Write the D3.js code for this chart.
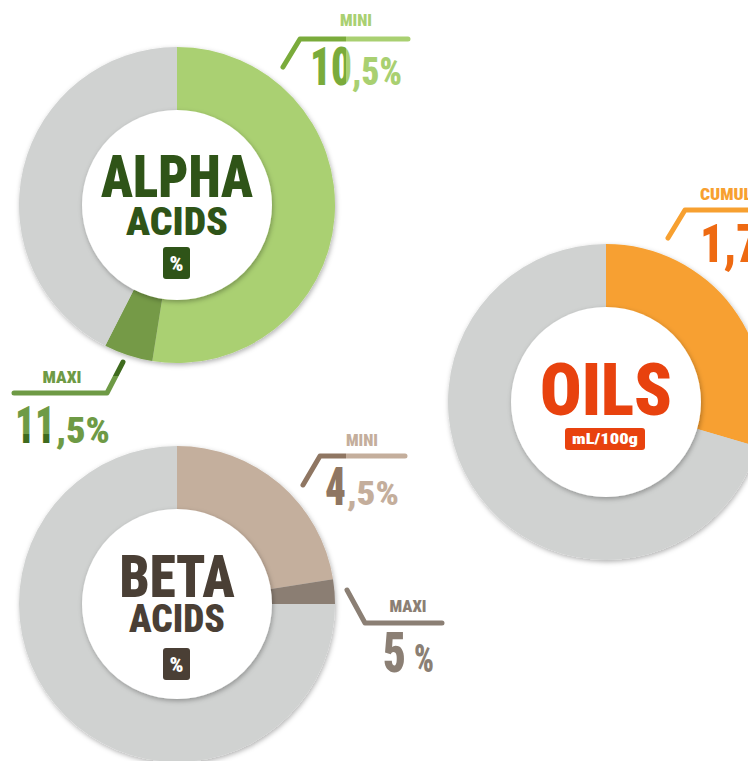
<!DOCTYPE html>
<html>
<head>
<meta charset="utf-8">
<script src="https://cdn.jsdelivr.net/npm/d3@7"></script>
<style>
  body { margin: 0; background: #fff; overflow: hidden; }
  text { font-family: "Roboto Condensed", Roboto, sans-serif; font-weight: 900; }
</style>
</head>
<body>
<div id="chart-area"></div>
<script>
const WIDTH = 748, HEIGHT = 761
const OUTER_R = 158, INNER_R = 95

// values
const alphaTitle = ["ALPHA", "ACIDS"]
const alphaUnit = "%"
const alphaRange = [10.5, 11.5]   // mini, maxi
const alphaMax = 20
const betaTitle = ["BETA", "ACIDS"]
const betaUnit = "%"
const betaRange = [4.5, 5]
const betaMax = 20
const oilsTitle = ["OILS"]
const oilsUnit = "mL/100g"
const oilsCumul = [1.7]
const oilsMax = 5.75
const calloutLabels = ["MINI", "MAXI", "CUMUL"]

const GREY = "#d0d2d1"
const fmt = v => String(v).replace(".", ",")
const intPart = v => fmt(v).split(",")[0]
const decPart = v => "," + fmt(v).split(",")[1]

const svg = d3.select("#chart-area").append("svg")
  .attr("width", WIDTH)
  .attr("height", HEIGHT)

const defs = svg.append("defs")
defs.append("filter").attr("id", "shadow")
  .attr("x", "-20%").attr("y", "-20%").attr("width", "140%").attr("height", "140%")
  .append("feDropShadow")
  .attr("dx", 1).attr("dy", 2).attr("stdDeviation", 2.5)
  .attr("flood-color", "#000").attr("flood-opacity", 0.3)

// hard two-colour split, in page coordinates
let gradId = 0
function split(x1, y1, x2, y2, at, c1, c2) {
  const id = "split" + (gradId++)
  const t = x2 !== x1 ? (at - x1) / (x2 - x1) : (at - y1) / (y2 - y1)
  const lg = defs.append("linearGradient").attr("id", id)
    .attr("gradientUnits", "userSpaceOnUse")
    .attr("x1", x1).attr("y1", y1).attr("x2", x2).attr("y2", y2)
  ;[[0, c1], [t, c1], [t, c2], [1, c2]].forEach(s =>
    lg.append("stop").attr("offset", s[0]).attr("stop-color", s[1]))
  return `url(#${id})`
}

function drawDonut(cx, cy, stops, max, colors) {
  const angle = d3.scaleLinear().domain([0, max]).range([0, 2 * Math.PI])
  const segs = d3.pairs([0, ...stops, max])
  const arc = d3.arc().innerRadius(INNER_R - 6).outerRadius(OUTER_R)
  const g = svg.append("g").attr("transform", `translate(${cx}, ${cy})`)
  g.append("g").attr("filter", "url(#shadow)")
    .selectAll("path")
    .data(segs)
    .enter().append("path")
      .attr("d", d => arc({ startAngle: angle(d[0]), endAngle: angle(d[1]) }))
      .attr("fill", (d, i) => colors[i])
  g.append("circle")
    .attr("r", INNER_R)
    .attr("fill", "#fff")
    .attr("filter", "url(#shadow)")
  return g
}

function fitText(parent, txt, x, y, size, len, color, anchor) {
  return parent.append("text")
    .attr("x", x).attr("y", y)
    .attr("text-anchor", anchor || "middle")
    .attr("font-size", size)
    .attr("textLength", len)
    .attr("lengthAdjust", "spacingAndGlyphs")
    .attr("fill", color)
    .text(txt)
}

function unitBox(g, txt, x, y, w, h, size, len, color) {
  g.append("rect")
    .attr("x", x).attr("y", y).attr("width", w).attr("height", h)
    .attr("rx", 3).attr("fill", color)
  fitText(g, txt, x + w / 2, y + h / 2 + size * 0.36, size, len, "#fff")
}

// number made of pieces of different sizes, laid left to right
function pieces(parent, x, y, parts) {
  let cx = x
  parts.forEach(p => {
    cx += p.gap || 0
    fitText(parent, p.text, cx, y, p.size, p.w, p.fill, "start")
    cx += p.w
  })
}

function callout(path, stroke, label, labelPos, number, numberPos) {
  const g = svg.append("g")
  fitText(g, label, labelPos[0], labelPos[1], 17, labelPos[2], labelPos[4], labelPos[3])
  g.append("path")
    .attr("d", path)
    .attr("fill", "none")
    .attr("stroke", stroke)
    .attr("stroke-width", 5)
    .attr("stroke-linecap", "round")
    .attr("stroke-linejoin", "round")
  pieces(g, numberPos[0], numberPos[1], number)
  return g
}

// ALPHA ACIDS
const alpha = drawDonut(177, 205, alphaRange, alphaMax, ["#aad072", "#759a47", GREY])
fitText(alpha, alphaTitle[0], 0, -8, 59, 152, "#2f5418")
fitText(alpha, alphaTitle[1], 0, 30, 39, 102, "#2f5418")
unitBox(alpha, alphaUnit, -14, 42, 27, 32, 21, 14, "#2f5418")

const miniA = split(280, 0, 410, 0, 346, "#7aab3b", "#a9d071")
callout("M283,67 L300,39 L408,39", miniA, calloutLabels[0], [356, 26, 32, "middle", "#a9d071"],
  [{ text: intPart(alphaRange[0]), size: 53, w: 42, fill: miniA },
   { text: decPart(alphaRange[0]) + "%", size: 38, w: 50, fill: "#a9d071" }],
  [310, 85])

callout("M14,393 L107,393 L123,362", split(0, 360, 0, 396, 376, "#3f6b1e", "#6e9a45"),
  calloutLabels[1], [62, 383, 39, "middle", "#6e9a45"],
  [{ text: intPart(alphaRange[1]), size: 51, w: 40, fill: split(0, 400, 0, 446, 434, "#6e9a45", "#3f6b1e") },
   { text: decPart(alphaRange[1]) + "%", size: 36, w: 54, gap: 1, fill: "#6e9a45" }],
  [15, 443])

// BETA ACIDS
const beta = drawDonut(177, 604, betaRange, betaMax, ["#c4af9d", "#8b7e73", GREY])
fitText(beta, betaTitle[0], 0, -7, 59, 115, "#4a3f35")
fitText(beta, betaTitle[1], 0, 28, 38, 96, "#4a3f35")
unitBox(beta, betaUnit, -14, 44, 27, 32, 21, 14, "#4a3f35")

callout("M303,485 L320,456 L405,456", split(300, 0, 410, 0, 346, "#8f7662", "#c4ae9c"),
  calloutLabels[0], [362, 446, 32, "middle", "#c4ae9c"],
  [{ text: intPart(betaRange[0]), size: 53, w: 21, fill: "#8f7662" },
   { text: decPart(betaRange[0]) + "%", size: 34, w: 52, gap: 1, fill: "#c4ae9c" }],
  [325, 505])

callout("M347,590 L365,623 L442,623", "#8b7f74", calloutLabels[1], [408, 612, 37, "middle", "#8b7f74"],
  [{ text: fmt(betaRange[1]), size: 55, w: 23, fill: "#8b7f74" },
   { text: "%", size: 38, w: 20, gap: 8, fill: "#8b7f74" }],
  [383, 672])

// OILS
const oils = drawDonut(606, 402, oilsCumul, oilsMax, ["#f7a030", GREY])
fitText(oils, oilsTitle[0], 0, 13, 73, 132, "#e8420e")
unitBox(oils, oilsUnit, -41, 26, 80, 22, 15, 66, "#e8420e")

callout("M668,238 L685,210 L760,210", "#f7a030", calloutLabels[2], [700, 200, 52, "start", "#f7a030"],
  [{ text: fmt(oilsCumul[0]), size: 53, w: 60, fill: "#ee6a12" }],
  [700, 262])
</script>
</body>
</html>
